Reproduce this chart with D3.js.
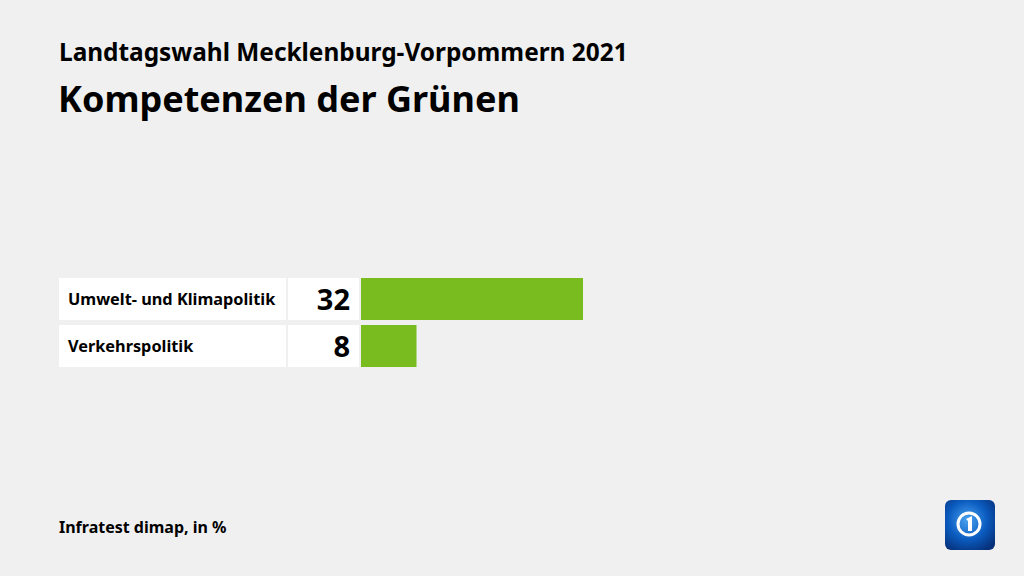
<!DOCTYPE html>
<html>
<head>
<meta charset="utf-8">
<script src="https://cdn.jsdelivr.net/npm/d3@7"></script>
<style>
  body { margin: 0; background: #f0f0f0; }
  svg { display: block; font-family: "Noto Sans", sans-serif; }
</style>
</head>
<body>
<svg id="chart" width="1024" height="576"></svg>
<script>
var categories = ["Umwelt- und Klimapolitik", "Verkehrspolitik"];
var values = [32, 8];

var svg = d3.select("#chart");
var width = 1024, height = 576;

svg.append("rect").attr("width", width).attr("height", height).attr("fill", "#f0f0f0");

svg.append("text").attr("x", 59).attr("y", 61)
  .attr("font-size", 24.4).attr("font-weight", 700).attr("fill", "#000")
  .text("Landtagswahl Mecklenburg-Vorpommern 2021");
svg.append("text").attr("x", 58).attr("y", 112)
  .attr("font-size", 36).attr("font-weight", 700).attr("fill", "#000")
  .text("Kompetenzen der Grünen");

var labelX = 59, labelW = 227, valX = 288, valW = 71, barX = 361;

var y = d3.scaleBand().domain(categories).range([278, 367]).paddingInner(0.1064).paddingOuter(0);
var x = d3.scaleLinear().domain([0, 32]).range([0, 222]);

var rows = svg.append("g").selectAll("g")
  .data(categories)
  .enter().append("g")
  .attr("transform", function(d) { return "translate(0," + y(d) + ")"; });

rows.append("rect").attr("x", labelX).attr("width", labelW).attr("height", y.bandwidth()).attr("fill", "#fff");
rows.append("rect").attr("x", valX).attr("width", valW).attr("height", y.bandwidth()).attr("fill", "#fff");
rows.append("rect").attr("x", barX)
  .attr("width", function(d, i) { return x(values[i]); })
  .attr("height", y.bandwidth()).attr("fill", "#79bc1f");

rows.append("text").attr("x", 68).attr("y", y.bandwidth() / 2 + 6)
  .attr("font-size", 16.3).attr("font-weight", 700).attr("fill", "#000")
  .text(function(d) { return d; });
rows.append("text").attr("x", 350).attr("y", y.bandwidth() / 2 + 11)
  .attr("text-anchor", "end")
  .attr("font-size", 29).attr("font-weight", 700).attr("fill", "#000")
  .text(function(d, i) { return values[i]; });

svg.append("text").attr("x", 59).attr("y", 533)
  .attr("font-size", 16).attr("font-weight", 700).attr("fill", "#000")
  .text("Infratest dimap, in %");

// logo
var defs = svg.append("defs");
var grad = defs.append("radialGradient").attr("id", "lg").attr("cx", "45%").attr("cy", "40%").attr("r", "70%");
grad.append("stop").attr("offset", "0%").attr("stop-color", "#4aa3f0");
grad.append("stop").attr("offset", "55%").attr("stop-color", "#0b5cc0");
grad.append("stop").attr("offset", "100%").attr("stop-color", "#06307a");
var logo = svg.append("g").attr("transform", "translate(945,500)");
logo.append("rect").attr("width", 50).attr("height", 50).attr("rx", 6).attr("fill", "url(#lg)");
logo.append("circle").attr("cx", 24).attr("cy", 24).attr("r", 11).attr("fill", "none").attr("stroke", "#fff").attr("stroke-width", 3);
logo.append("path").attr("d", "M21 19 L27 16 L27 31 L23 31 L23 21 Z").attr("fill", "#fff");
</script>
</body>
</html>
